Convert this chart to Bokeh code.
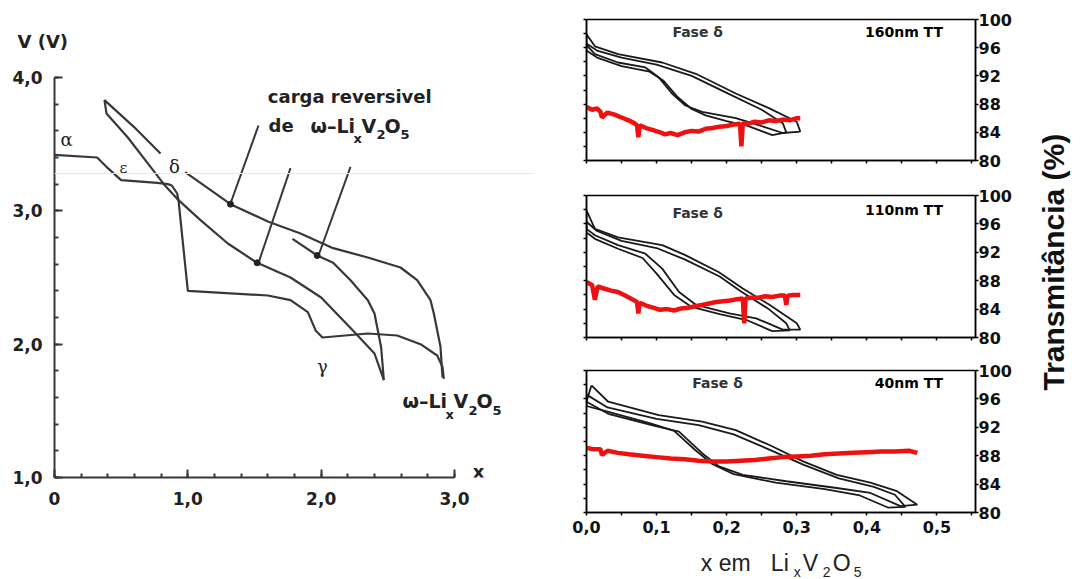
from math import pi
from bokeh.plotting import figure
from bokeh.layouts import row, column
from bokeh.models import Label, Span, FixedTicker, CustomJSTickFormatter, LinearAxis, Range1d
from bokeh.embed import file_html
from bokeh.resources import INLINE

# ---------------- left panel data (V vs x) ----------------
c1_x = [0.0, 0.32, 0.40, 0.50, 0.77, 0.85, 0.88, 0.92, 0.93, 1.0, 1.6, 1.77, 1.90, 1.96, 2.01, 2.35, 2.57, 2.745, 2.87, 2.91, 2.92]
c1_v = [3.42, 3.40, 3.32, 3.23, 3.21, 3.20, 3.19, 3.13, 3.08, 2.40, 2.365, 2.33, 2.24, 2.10, 2.05, 2.08, 2.065, 2.00, 1.915, 1.83, 1.74]
c2_x = [2.47, 2.40, 2.24, 2.00, 1.77, 1.52, 1.30, 1.095, 0.92, 0.82, 0.72, 0.55, 0.39, 0.375, 0.595, 0.795]
c2_v = [1.73, 1.93, 2.10, 2.35, 2.50, 2.61, 2.755, 2.93, 3.09, 3.20, 3.33, 3.55, 3.73, 3.83, 3.63, 3.43]
c3_x = [0.98, 1.32, 1.60, 1.845, 2.09, 2.35, 2.595, 2.72, 2.82, 2.845, 2.895, 2.91]
c3_v = [3.29, 3.05, 2.92, 2.83, 2.72, 2.65, 2.575, 2.48, 2.33, 2.23, 1.98, 1.75]
c4_x = [1.785, 1.97, 2.09, 2.22, 2.35, 2.40, 2.45, 2.47]
c4_v = [2.79, 2.665, 2.61, 2.48, 2.33, 2.23, 1.975, 1.73]
dot_x = [1.32, 1.52, 1.97]
dot_v = [3.05, 2.61, 2.665]
ptr_x0 = [1.53, 1.77, 2.22]
ptr_v0 = [3.64, 3.32, 3.33]
ptr_x1 = [1.32, 1.53, 1.98]
ptr_v1 = [3.055, 2.61, 2.665]
left_xticks = [0, 1, 2, 3]
left_vticks = [1, 2, 3, 4]

# ---------------- right panels data (Transmitance vs x) ----------------
p1a_x = [0.0, 0.012, 0.045, 0.108, 0.156, 0.213, 0.261, 0.300, 0.305, 0.28, 0.24, 0.213, 0.165, 0.141, 0.122, 0.103, 0.084, 0.045, 0.012, 0.0, 0.0]
p1a_y = [97.9, 96.2, 95.1, 93.9, 92.3, 89.5, 87.4, 85.5, 84.1, 83.9, 85.2, 86.0, 86.9, 87.8, 89.5, 91.8, 93.2, 93.9, 95.1, 96.4, 97.9]
p1b_x = [0.0, 0.015, 0.05, 0.10, 0.15, 0.20, 0.25, 0.28, 0.285, 0.265, 0.23, 0.20, 0.17, 0.15, 0.13, 0.11, 0.09, 0.05, 0.015, 0.0, 0.0]
p1b_y = [96.6, 95.6, 94.6, 93.6, 92.0, 89.6, 87.2, 85.3, 84.0, 83.6, 84.9, 85.6, 86.4, 87.3, 89.0, 91.3, 92.6, 93.4, 94.6, 95.6, 96.6]
p1r_x = [0.000, 0.008, 0.015, 0.020, 0.022, 0.030, 0.040, 0.050, 0.060, 0.068, 0.072, 0.074, 0.076, 0.085, 0.095, 0.105, 0.112, 0.120, 0.130, 0.140, 0.150, 0.160, 0.170, 0.180, 0.190, 0.200, 0.210, 0.219, 0.221, 0.223, 0.230, 0.240, 0.250, 0.260, 0.270, 0.280, 0.290, 0.300, 0.305]
p1r_y = [87.6, 87.2, 87.4, 86.9, 86.1, 86.8, 86.5, 86.1, 85.7, 85.3, 85.0, 83.3, 85.0, 84.6, 84.3, 84.0, 83.7, 83.9, 83.6, 84.0, 84.2, 84.1, 84.5, 84.6, 84.8, 84.9, 85.1, 85.2, 82.0, 85.3, 85.2, 85.5, 85.4, 85.7, 85.6, 85.8, 85.7, 86.0, 86.0]

p2a_x = [0.0, 0.012, 0.045, 0.108, 0.141, 0.189, 0.223, 0.261, 0.300, 0.305, 0.28, 0.242, 0.204, 0.156, 0.132, 0.108, 0.084, 0.045, 0.012, 0.0, 0.0]
p2a_y = [97.9, 95.3, 94.1, 93.0, 91.6, 89.2, 86.9, 84.6, 82.0, 81.1, 81.1, 82.7, 83.4, 84.6, 86.4, 89.7, 91.8, 93.0, 94.4, 95.3, 97.9]
p2b_x = [0.0, 0.015, 0.05, 0.10, 0.14, 0.19, 0.22, 0.26, 0.285, 0.29, 0.265, 0.23, 0.19, 0.15, 0.125, 0.10, 0.08, 0.045, 0.012, 0.0, 0.0]
p2b_y = [96.3, 95.0, 93.6, 92.6, 91.0, 88.6, 86.5, 84.0, 82.0, 81.0, 80.9, 82.4, 83.3, 84.3, 86.0, 89.0, 91.2, 92.5, 93.9, 94.8, 96.3]
p2r_x = [0.000, 0.008, 0.012, 0.016, 0.025, 0.035, 0.045, 0.055, 0.065, 0.072, 0.074, 0.076, 0.085, 0.095, 0.105, 0.115, 0.125, 0.135, 0.145, 0.155, 0.165, 0.175, 0.185, 0.195, 0.205, 0.215, 0.223, 0.225, 0.227, 0.235, 0.245, 0.255, 0.265, 0.275, 0.283, 0.285, 0.287, 0.295, 0.305]
p2r_y = [87.8, 87.4, 85.3, 87.2, 86.9, 86.6, 86.4, 85.9, 85.4, 85.0, 83.4, 84.9, 84.5, 84.2, 83.9, 84.0, 83.8, 84.1, 84.2, 84.4, 84.6, 84.8, 85.0, 85.1, 85.2, 85.4, 85.5, 82.0, 85.5, 85.6, 85.6, 85.8, 85.7, 85.9, 85.9, 84.6, 85.9, 86.0, 86.0]

p3a_x = [0.007, 0.031, 0.103, 0.165, 0.213, 0.261, 0.309, 0.357, 0.405, 0.443, 0.472, 0.448, 0.405, 0.357, 0.285, 0.223, 0.189, 0.165, 0.132, 0.093, 0.031, 0.0, 0.007]
p3a_y = [97.9, 95.6, 93.7, 92.8, 91.6, 89.5, 87.2, 85.3, 84.2, 83.0, 81.1, 80.9, 82.75, 83.45, 84.4, 85.3, 86.5, 88.35, 91.4, 92.3, 93.9, 95.6, 97.9]
p3b_x = [0.0, 0.03, 0.10, 0.16, 0.21, 0.26, 0.31, 0.36, 0.41, 0.44, 0.455, 0.43, 0.39, 0.34, 0.27, 0.21, 0.18, 0.155, 0.125, 0.09, 0.03, 0.0, 0.0]
p3b_y = [96.6, 94.8, 93.2, 92.3, 91.0, 88.9, 86.7, 84.8, 83.6, 82.5, 80.8, 80.7, 82.4, 83.3, 84.2, 85.4, 86.8, 88.8, 91.5, 92.6, 94.2, 95.0, 96.6]
p3r_x = [0.000, 0.010, 0.020, 0.022, 0.030, 0.045, 0.060, 0.080, 0.100, 0.120, 0.140, 0.160, 0.180, 0.200, 0.220, 0.240, 0.260, 0.280, 0.300, 0.320, 0.340, 0.360, 0.380, 0.400, 0.420, 0.440, 0.460, 0.472]
p3r_y = [89.1, 88.9, 88.9, 88.1, 88.7, 88.4, 88.2, 88.0, 87.8, 87.6, 87.5, 87.3, 87.2, 87.2, 87.3, 87.4, 87.6, 87.8, 87.9, 88.0, 88.2, 88.3, 88.4, 88.5, 88.6, 88.6, 88.7, 88.4]

right_xticks = [0.0, 0.1, 0.2, 0.3, 0.4, 0.5]
right_yticks = [80, 84, 88, 92, 96, 100]
panel_names = ["160nm TT", "110nm TT", "40nm TT"]

DARK = "#383838"
BOLD_FONT = "DejaVu Sans"

def lab(p, x, y, text, size, font=BOLD_FONT, style="bold", align="left", baseline="middle",
        color="#222222", angle=0):
    p.add_layout(Label(x=x, y=y, text=text, text_font=font, text_font_style=style,
                       text_font_size=size, text_align=align, text_baseline=baseline,
                       text_color=color, angle=angle))

# ---------------- left figure ----------------
left = figure(width=558, height=579, x_range=Range1d(0, 3.6), y_range=Range1d(1, 4.1425),
              output_backend="svg", toolbar_location=None, title="V (V)",
              min_border_left=54, min_border_right=24, min_border_top=58, min_border_bottom=102)
left.title.align = "left"
left.title.offset = -37
left.title.standoff = 13
left.title.text_font = BOLD_FONT
left.title.text_font_style = "bold"
left.title.text_font_size = "18px"
left.title.text_color = "#222222"
left.outline_line_color = None
left.grid.visible = False

left.add_layout(Span(location=3.28, dimension="width", line_color="#e8e8e8", line_width=1))

xa = left.xaxis[0]
xa.ticker = FixedTicker(ticks=left_xticks, minor_ticks=[i * 0.2 for i in range(16)])
xa.bounds = (0, 3)
xa.formatter = CustomJSTickFormatter(code="return tick === 0 ? '0' : tick.toFixed(1).replace('.', ',');")
ya = left.yaxis[0]
ya.ticker = FixedTicker(ticks=left_vticks, minor_ticks=[1 + i * 0.2 for i in range(16)])
ya.bounds = (1, 4)
ya.formatter = CustomJSTickFormatter(code="return tick.toFixed(1).replace('.', ',');")
for ax in (xa, ya):
    ax.axis_line_width = 2
    ax.axis_line_color = DARK
    ax.major_tick_in = 8
    ax.major_tick_out = 0
    ax.minor_tick_in = 4
    ax.minor_tick_out = 0
    ax.major_tick_line_width = 2
    ax.minor_tick_line_width = 2
    ax.major_tick_line_color = DARK
    ax.minor_tick_line_color = DARK
    ax.major_label_text_font = BOLD_FONT
    ax.major_label_text_font_style = "bold"
    ax.major_label_text_font_size = "17px"
    ax.major_label_text_color = "#222222"
xa.major_label_standoff = 14
ya.major_label_standoff = 12

for cx, cv in ((c1_x, c1_v), (c2_x, c2_v), (c3_x, c3_v), (c4_x, c4_v)):
    left.line(cx, cv, line_color=DARK, line_width=2.2)
left.segment(x0=ptr_x0, y0=ptr_v0, x1=ptr_x1, y1=ptr_v1, line_color=DARK, line_width=2)
left.scatter(dot_x, dot_v, size=6, color="#222222")

lab(left, 3.18, 1.045, "x", "18px", align="center")
lab(left, 1.60, 3.86, "carga reversivel", "18px")
lab(left, 1.605, 3.64, "de", "18px")
lab(left, 1.92, 3.64, "\u03c9\u2013Li", "19px")
lab(left, 2.2425, 3.539, "x", "13px")
lab(left, 2.3025, 3.64, "V", "19px")
lab(left, 2.415, 3.569, "2", "13px")
lab(left, 2.475, 3.64, "O", "19px")
lab(left, 2.595, 3.569, "5", "13px")
lab(left, 2.61, 1.5745, "\u03c9\u2013Li", "19px")
lab(left, 2.9325, 1.476, "x", "13px")
lab(left, 2.9925, 1.5745, "V", "19px")
lab(left, 3.105, 1.506, "2", "13px")
lab(left, 3.165, 1.5745, "O", "19px")
lab(left, 3.285, 1.506, "5", "13px")
lab(left, 0.09, 3.535, "\u03b1", "18px", font="DejaVu Serif", style="normal", align="center")
lab(left, 0.5175, 3.325, "\u03b5", "15px", font="DejaVu Serif", style="normal", align="center")
lab(left, 0.90, 3.3325, "\u03b4", "18px", font="DejaVu Serif", style="normal", align="center")
lab(left, 2.01, 1.835, "\u03b3", "18px", font="DejaVu Serif", style="normal", align="center")

# ---------------- right figures ----------------
def tfig(h, top, bottom, show_x):
    p = figure(width=472, height=h, x_range=Range1d(0, 0.555), y_range=Range1d(80, 100),
               y_axis_location="right", output_backend="svg", toolbar_location=None,
               min_border_left=28, min_border_right=55, min_border_top=top, min_border_bottom=bottom)
    p.grid.visible = False
    p.outline_line_color = "black"
    p.outline_line_width = 1.5
    ra = p.yaxis[0]
    ra.ticker = FixedTicker(ticks=right_yticks)
    ra.major_label_text_font = BOLD_FONT
    ra.major_label_text_font_style = "bold"
    ra.major_label_text_font_size = "16px"
    ra.major_label_text_color = "#111111"
    ra.major_label_standoff = 0
    xa = p.xaxis[0]
    xa.ticker = FixedTicker(ticks=right_xticks, minor_ticks=[0.05, 0.15, 0.25, 0.35, 0.45, 0.55])
    if show_x:
        xa.formatter = CustomJSTickFormatter(code="return tick.toFixed(1).replace('.', ',');")
        xa.major_label_text_font = BOLD_FONT
        xa.major_label_text_font_style = "bold"
        xa.major_label_text_font_size = "16px"
        xa.major_label_text_color = "#111111"
        xa.major_label_standoff = 5
    else:
        xa.formatter = CustomJSTickFormatter(code="return '';")
        xa.major_label_text_font_size = "1px"
    la = LinearAxis(ticker=FixedTicker(ticks=right_yticks, minor_ticks=[82, 86, 90, 94, 98]),
                    formatter=CustomJSTickFormatter(code="return '';"),
                    major_label_text_font_size="1px")
    p.add_layout(la, "left")
    for ax in (xa, ra, la):
        ax.axis_line_width = 1.5
        ax.axis_line_color = "black"
        ax.major_tick_in = 0
        ax.major_tick_out = 3
        ax.minor_tick_in = 0
        ax.minor_tick_out = 3
        ax.major_tick_line_width = 1.5
        ax.minor_tick_line_width = 1.5
    return p

f1 = tfig(178, 19, 18, False)
f2 = tfig(175, 17, 16, False)
f3 = tfig(192, 17, 33, True)

BLACK = "#1a1a1a"
RED = "#ee1111"
for p, (ax_, ay_), (bx_, by_), (rx, ry) in (
        (f1, (p1a_x, p1a_y), (p1b_x, p1b_y), (p1r_x, p1r_y)),
        (f2, (p2a_x, p2a_y), (p2b_x, p2b_y), (p2r_x, p2r_y)),
        (f3, (p3a_x, p3a_y), (p3b_x, p3b_y), (p3r_x, p3r_y))):
    p.line(ax_, ay_, line_color=BLACK, line_width=1.8)
    p.line(bx_, by_, line_color=BLACK, line_width=1.8)
    p.line(rx, ry, line_color=RED, line_width=4.5)

lab(f1, 0.1586, 98.16, "Fase \u03b4", "14px", align="center", color="#333333")
lab(f1, 0.453, 98.16, panel_names[0], "14px", align="center", color="#000000")
lab(f2, 0.1586, 97.6, "Fase \u03b4", "14px", align="center", color="#333333")
lab(f2, 0.453, 97.9, panel_names[1], "14px", align="center", color="#000000")
lab(f3, 0.187, 98.3, "Fase \u03b4", "14px", align="center", color="#333333")
lab(f3, 0.46, 98.3, panel_names[2], "14px", align="center", color="#000000")

# x-axis title under the right column (same frame borders as the panels above)
xlab = figure(width=472, height=34, x_range=Range1d(0, 0.555), y_range=Range1d(0, 34),
              x_axis_location=None, y_axis_location=None,
              min_border_left=28, min_border_right=55, min_border_top=0, min_border_bottom=0,
              output_backend="svg", toolbar_location=None)
xlab.outline_line_color = None
xlab.grid.visible = False
REG = "Liberation Sans"
lab(xlab, 0.163, 17, "x", "23px", font=REG, style="normal")
lab(xlab, 0.1886, 17, "em", "23px", font=REG, style="normal")
lab(xlab, 0.263, 17, "Li", "23px", font=REG, style="normal")
lab(xlab, 0.2957, 8, "x", "14px", font=REG, style="normal")
lab(xlab, 0.3086, 17, "V", "23px", font=REG, style="normal")
lab(xlab, 0.337, 8, "2", "14px", font=REG, style="normal")
lab(xlab, 0.3514, 17, "O", "23px", font=REG, style="normal")
lab(xlab, 0.3814, 8, "5", "14px", font=REG, style="normal")

# rotated y-axis title on the far right (frame aligned with the left figure's frame)
labfig = figure(width=51, height=579, x_range=Range1d(0, 51), y_range=Range1d(0, 419),
                x_axis_location=None, y_axis_location=None,
                min_border_left=0, min_border_right=0, min_border_top=58, min_border_bottom=102,
                output_backend="svg", toolbar_location=None)
labfig.outline_line_color = None
labfig.grid.visible = False
lab(labfig, 23, 87, "Transmit\u00e2ncia (%)", "30px", font="Liberation Sans",
    color="#111111", angle=pi / 2)

layout = row(left, column(f1, f2, f3, xlab), labfig)
open("out.html", "w").write(file_html(layout, INLINE))
